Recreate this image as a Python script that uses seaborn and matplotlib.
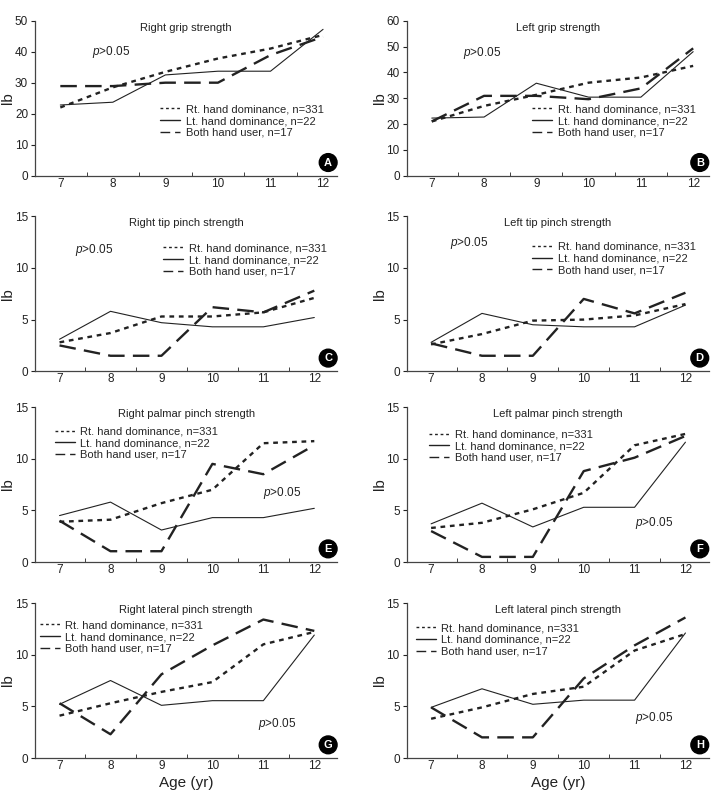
import numpy as np
import pandas as pd
import seaborn as sns
import matplotlib.pyplot as plt
from matplotlib.ticker import FixedLocator

ages = [7, 8, 9, 10, 11, 12]
groups = ["Rt. hand dominance, n=331", "Lt. hand dominance, n=22", "Both hand user, n=17"]
titles = ["Right grip strength", "Left grip strength",
          "Right tip pinch strength", "Left tip pinch strength",
          "Right palmar pinch strength", "Left palmar pinch strength",
          "Right lateral pinch strength", "Left lateral pinch strength"]
letters = ["A", "B", "C", "D", "E", "F", "G", "H"]

# values per panel: [Rt, Lt, Both]
right_grip = [[22.0, 28.5, 33.5, 37.8, 41.0, 45.4],
              [22.8, 23.7, 32.5, 33.7, 33.7, 47.2],
              [28.9, 28.9, 30.0, 30.0, 38.9, 44.8]]
left_grip = [[21.0, 27.0, 31.3, 36.0, 38.0, 42.5],
             [22.3, 22.7, 35.8, 30.4, 30.4, 48.0],
             [21.0, 30.9, 30.9, 29.6, 33.8, 49.3]]
right_tip = [[2.8, 3.7, 5.3, 5.3, 5.7, 7.1],
             [3.1, 5.8, 4.7, 4.3, 4.3, 5.2],
             [2.5, 1.5, 1.5, 6.2, 5.7, 7.8]]
left_tip = [[2.6, 3.6, 4.9, 5.0, 5.4, 6.5],
            [2.8, 5.6, 4.5, 4.3, 4.3, 6.4],
            [2.7, 1.5, 1.5, 7.0, 5.6, 7.6]]
right_palmar = [[3.9, 4.1, 5.7, 7.0, 11.5, 11.7],
                [4.5, 5.8, 3.1, 4.3, 4.3, 5.2],
                [4.0, 1.05, 1.05, 9.5, 8.5, 11.3]]
left_palmar = [[3.3, 3.8, 5.1, 6.7, 11.3, 12.4],
               [3.7, 5.7, 3.4, 5.3, 5.3, 11.6],
               [3.0, 0.5, 0.5, 8.8, 10.1, 12.2]]
right_lateral = [[4.1, 5.3, 6.4, 7.35, 11.0, 12.2],
                 [5.2, 7.5, 5.1, 5.55, 5.55, 11.9],
                 [5.3, 2.3, 8.1, 10.9, 13.4, 12.3]]
left_lateral = [[3.8, 4.9, 6.2, 6.9, 10.4, 12.0],
                [4.9, 6.7, 5.2, 5.6, 5.6, 12.1],
                [4.9, 2.0, 2.0, 7.7, 10.9, 13.6]]
panels = [right_grip, left_grip, right_tip, left_tip,
          right_palmar, left_palmar, right_lateral, left_lateral]

y_max = [50, 60, 15, 15, 15, 15, 15, 15]
y_step = [10, 10, 5, 5, 5, 5, 5, 5]
x_right = [12.27, 12.3, 12.45, 12.46, 12.45, 12.46, 12.45, 12.46]
p_pos = [(7.6, 40), (7.6, 47.4), (7.3, 11.7), (7.38, 12.4),
         (11.0, 6.65), (11.0, 3.8), (10.9, 3.3), (11.0, 3.9)]
legend_pos = [(0.415, 0.46), (0.415, 0.46), (0.425, 0.825), (0.415, 0.835),
              (0.065, 0.875), (0.075, 0.855), (0.015, 0.888), (0.03, 0.87)]

styles = [dict(linestyle=(0, (2, 2)), lw=1.7),
          dict(linestyle="-", lw=0.8),
          dict(linestyle=(0, (7, 3.5)), lw=1.7)]

sns.set_style("ticks")
plt.rcParams["font.family"] = ["Liberation Sans", "DejaVu Sans"]
plt.rcParams["mathtext.fontset"] = "custom"
plt.rcParams["mathtext.it"] = "Liberation Sans:italic"
plt.rcParams["mathtext.rm"] = "Liberation Sans"

ink = "#222222"
fig = plt.figure(figsize=(7.16, 7.95), dpi=100)
lefts = [0.049, 0.568]
bottoms = [0.779, 0.533, 0.293, 0.0465]

for i, data in enumerate(panels):
    r, c = divmod(i, 2)
    ax = fig.add_axes([lefts[c], bottoms[r], 0.422, 0.195])
    for g in range(3):
        df = pd.DataFrame({"age": ages, "val": data[g]})
        sns.lineplot(data=df, x="age", y="val", ax=ax, color=ink,
                     label=groups[g], **styles[g])
    ax.set_xlim(6.52, x_right[i])
    ax.set_ylim(0, y_max[i])
    ax.set_yticks(np.arange(0, y_max[i] + 1, y_step[i]))
    ax.set_xticks(ages)
    ax.xaxis.set_minor_locator(FixedLocator([7.5, 8.5, 9.5, 10.5, 11.5]))
    ax.tick_params(axis="x", which="major", length=0, labelsize=8.5, colors=ink, pad=1.5)
    ax.tick_params(axis="x", which="minor", length=3, direction="in", color=ink)
    ax.tick_params(axis="y", length=3, labelsize=8.5, colors=ink, pad=2)
    sns.despine(ax=ax)
    for s in ["left", "bottom"]:
        ax.spines[s].set_color("#444444")
        ax.spines[s].set_linewidth(0.9)
    ax.set_ylabel("lb", fontsize=11, color=ink)
    ax.yaxis.set_label_coords(-0.066, 0.5)
    if r == 3:
        ax.set_xlabel("Age (yr)", fontsize=11, color=ink, labelpad=3)
    else:
        ax.set_xlabel("")
    ax.text(0.5, 0.955, titles[i], transform=ax.transAxes, ha="center",
            va="center", fontsize=8, color=ink)
    ax.text(p_pos[i][0], p_pos[i][1], r"$\it{p}$>0.05", ha="left",
            va="center", fontsize=8.5, color=ink)
    ax.text(0.97, 0.085, letters[i], transform=ax.transAxes, ha="center",
            va="center", fontsize=8, fontweight="bold", color="white",
            bbox=dict(boxstyle="circle,pad=0.35", fc="black", ec="black"))
    leg = ax.legend(loc="upper left", bbox_to_anchor=legend_pos[i], frameon=False,
                    fontsize=8, handlelength=1.8, handletextpad=0.5,
                    labelspacing=0.15, borderpad=0, borderaxespad=0)
    for ln in leg.get_lines():
        ln.set_linewidth(1.0)

fig.savefig("out.png", dpi=100)
